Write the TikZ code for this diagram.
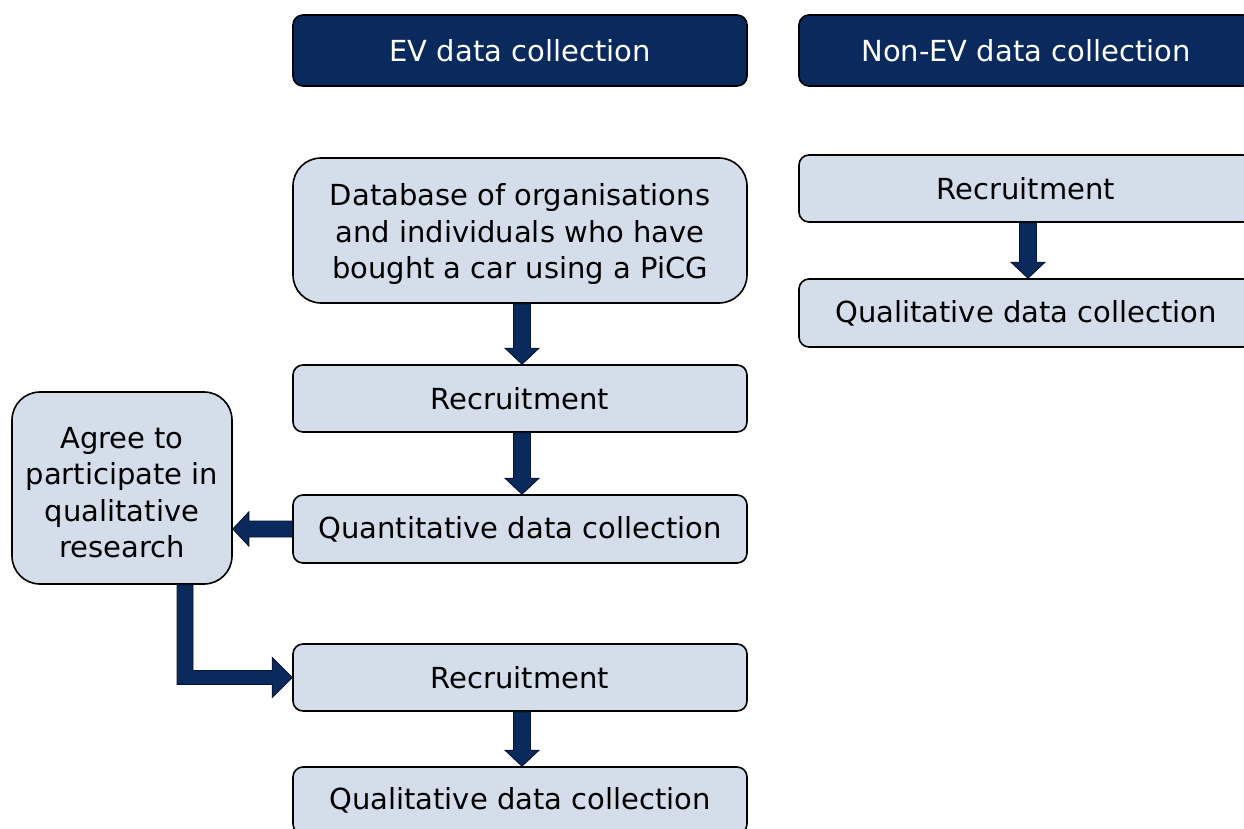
\documentclass[tikz,border=0pt]{standalone}
\usepackage{fontspec}
\setmainfont{DejaVu Sans}
\usetikzlibrary{calc}
\definecolor{navy}{RGB}{10,42,94}
\definecolor{boxfill}{RGB}{212,222,234}
\definecolor{arrowedge}{RGB}{5,20,45}
\tikzset{
  base/.style={rectangle, draw=black, line width=1.6pt, inner sep=0pt, align=center,
    font=\fontsize{29}{36.5}\selectfont, minimum width=454pt, minimum height=67pt},
  header/.style={base, fill=navy, text=white, rounded corners=10pt, minimum height=71pt},
  stepbox/.style={base, fill=boxfill, rounded corners=10pt},
  bigbox/.style={base, fill=boxfill, rounded corners=28pt},
  barrow/.style={fill=navy, draw=arrowedge, line width=0.9pt, line join=miter}
}
\newcommand{\topstrut}{\rule{0pt}{30pt}}
\begin{document}
\begin{tikzpicture}[x=1pt,y=-1pt]
\useasboundingbox (0,0) rectangle (1244,829);
\fill[white] (0,0) rectangle (1244,829);
\clip (0,0) rectangle (1244,829);

\node[header] (evh) at (520,50.5) {EV data collection};
\node[header] (nevh) at (1026,50.5) {Non-EV data collection};

\node[bigbox, minimum height=145pt] (db) at (520,230.5)
  {\topstrut Database of organisations\\and individuals who have\\bought a car using a PiCG};
\node[stepbox] (rec1) at (520,398.5) {Recruitment};
\node[stepbox, minimum height=68pt] (quant) at (520,529) {Quantitative data collection};
\node[bigbox, minimum width=220pt, minimum height=192pt] (agree) at (122,488)
  {\topstrut Agree to\\participate in\\qualitative\\research};
\node[stepbox] (rec2) at (520,677.5) {Recruitment};
\node[stepbox] (qual) at (520,800.5) {Qualitative data collection};

\node[stepbox] (rrec) at (1026,188.5) {Recruitment};
\node[stepbox, minimum height=68pt] (rqual) at (1026,313) {Qualitative data collection};

% vertical block arrows
\foreach \a/\b in {db/rec1, rec1/quant, rec2/qual, rrec/rqual}{
  \draw[barrow] let \p1=($(\a.south)+(2,0)$), \p2=(\b.north) in
    (\x1-8.5pt,\y1) -- (\x1-8.5pt,\y2+16pt) -- (\x1-17pt,\y2+16pt) -- (\x1,\y2)
    -- (\x1+17pt,\y2+16pt) -- (\x1+8.5pt,\y2+16pt) -- (\x1+8.5pt,\y1) -- cycle;
}

% quantitative -> agree
\draw[barrow] let \p1=(quant.west), \p2=(agree.east) in
  (\x1,\y1+8pt) -- (\x2+16pt,\y1+8pt) -- (\x2+16pt,\y1+17pt) -- (\x2,\y1)
  -- (\x2+16pt,\y1-17pt) -- (\x2+16pt,\y1-8pt) -- (\x1,\y1-8pt) -- cycle;

% agree -> recruitment (elbow)
\draw[barrow] let \p1=($(agree.south)+(63,0)$), \p2=(rec2.west) in
  (\x1-8pt,\y1) -- (\x1-8pt,\y2-7pt) -- (\x2-20pt,\y2-7pt) -- (\x2-20pt,\y2-20pt)
  -- (\p2) -- (\x2-20pt,\y2+20pt) -- (\x2-20pt,\y2+7pt) -- (\x1+8pt,\y2+7pt)
  -- (\x1+8pt,\y1) -- cycle;
\end{tikzpicture}
\end{document}
